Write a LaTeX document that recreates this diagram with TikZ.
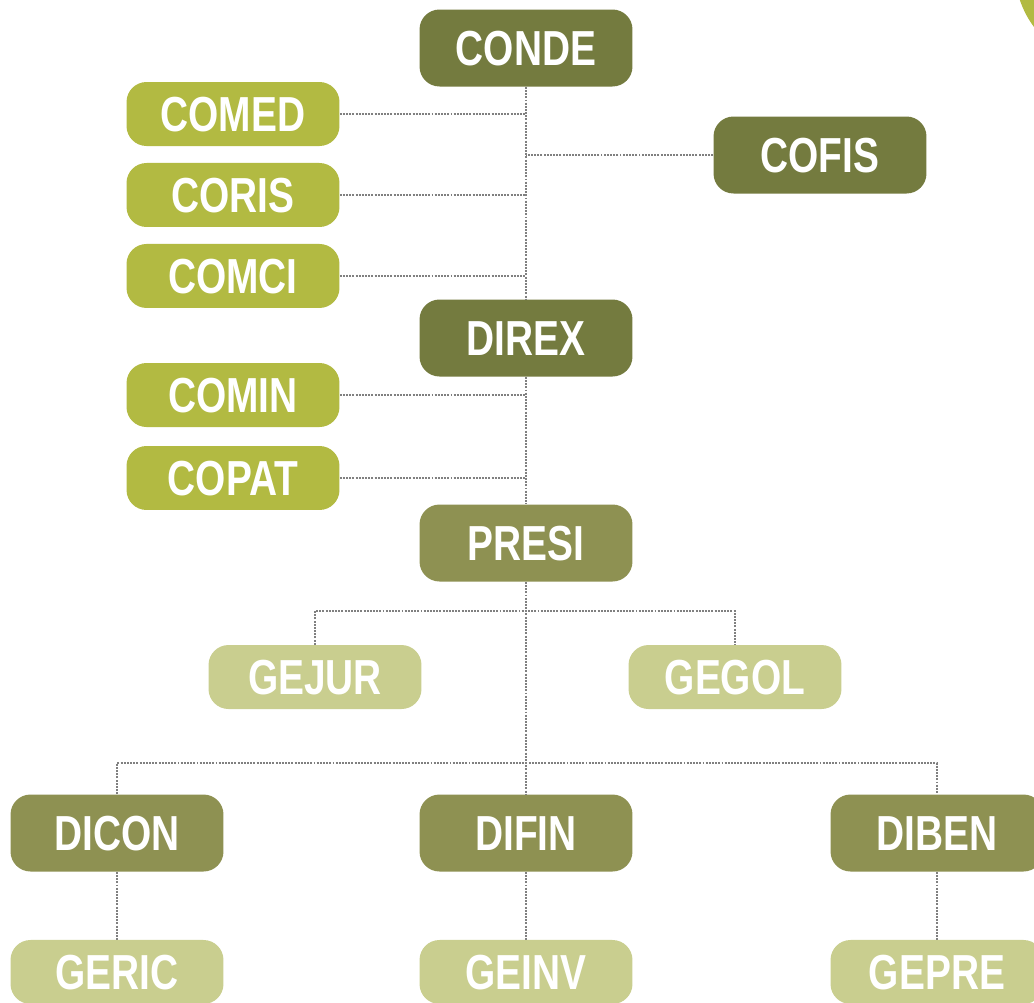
\documentclass[tikz,border=0pt]{standalone}
\usepackage{fontspec}
\setmainfont{Liberation Sans}[FakeStretch=0.79]
\usetikzlibrary{positioning}

\definecolor{darkolive}{HTML}{747B3F}
\definecolor{midolive}{HTML}{8E9152}
\definecolor{brightolive}{HTML}{B2BA42}
\definecolor{paleolive}{HTML}{C9CE8F}
\definecolor{linkgray}{HTML}{808080}

\tikzset{
  unit/.style={rounded corners=0.4cm, text=white, font=\bfseries\fontsize{28}{30}\selectfont,
    minimum width=4.26cm, inner sep=0pt, text height=20pt, text depth=0pt},
  board/.style={unit, fill=darkolive, minimum height=1.54cm},
  comite/.style={unit, fill=brightolive, minimum height=1.28cm},
  direc/.style={unit, fill=midolive, minimum height=1.54cm},
  gerencia/.style={unit, fill=paleolive, minimum height=1.28cm},
  link/.style={draw=linkgray, line width=1.4pt, dash pattern=on 1.1pt off 0.7pt}
}

\begin{document}
\begin{tikzpicture}[x=0.02cm,y=-0.02cm,node distance=1.62cm,on grid]
    \useasboundingbox (0,0) rectangle (1034,1002);
    \fill[brightolive] (1110,-30) circle[radius=1.9cm];
    % top level
    \node[board] (conde) at (526,48) {CONDE};
    \node[board] (cofis) at (820,155) {COFIS};
    \node[board] (direx) at (526,338) {DIREX};
    \node[direc] (presi) at (526,543) {PRESI};
    % committees
    \node[comite] (comed) at (233,114) {COMED};
    \node[comite] (coris) [below=of comed] {CORIS};
    \node[comite] (comci) [below=of coris] {COMCI};
    \node[comite] (comin) at (233,395) {COMIN};
    \node[comite] (copat) [below=1.66cm of comin] {COPAT};
    % management
    \node[gerencia] (gejur) at (315,677) {GEJUR};
    \node[gerencia] (gegol) at (735,677) {GEGOL};
    \node[direc] (dicon) at (117,833) {DICON};
    \node[direc] (difin) at (526,833) {DIFIN};
    \node[direc] (diben) at (937,833) {DIBEN};
    \node[gerencia] (geric) [below=2.78cm of dicon] {GERIC};
    \node[gerencia] (geinv) [below=2.78cm of difin] {GEINV};
    \node[gerencia] (gepre) [below=2.78cm of diben] {GEPRE};
    \coordinate (bus1) at (526,611);
    \coordinate (bus2) at (526,763);
    % connectors
    \path[link]
    (conde) -- (direx)
    (direx) -- (presi)
    (presi) -- (difin)
    (comed.east) -- (comed.east -| conde.south)
    (coris.east) -- (coris.east -| conde.south)
    (comci.east) -- (comci.east -| conde.south)
    (cofis.west) -- (cofis.west -| conde.south)
    (comin.east) -- (comin.east -| direx.south)
    (copat.east) -- (copat.east -| direx.south)
    (gejur.north) |- (bus1) -| (gegol.north)
    (dicon.north) |- (bus2) -| (diben.north)
    (dicon) -- (geric)
    (difin) -- (geinv)
    (diben) -- (gepre);
\end{tikzpicture}
\end{document}
